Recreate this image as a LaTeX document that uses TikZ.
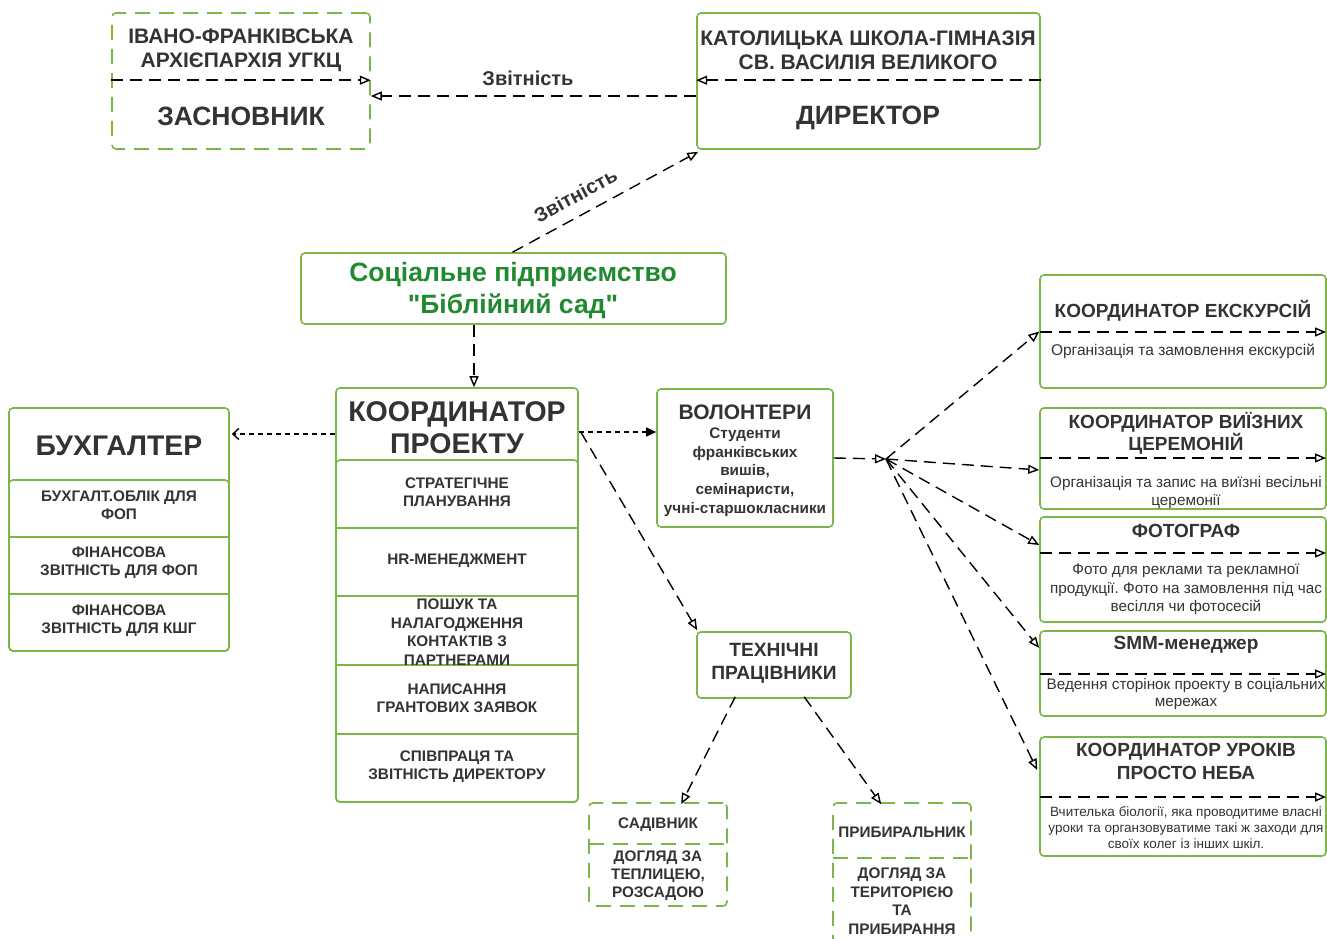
\documentclass[tikz,border=0pt]{standalone}
\usepackage{fontspec}
\setmainfont{Liberation Sans}[Ligatures=TeXOff]
\usetikzlibrary{arrows.meta,fit,calc}
\definecolor{gbox}{HTML}{7AB648}
\definecolor{gtext}{HTML}{1F8A2E}
\definecolor{dtext}{HTML}{333333}
\newcommand\fsz[2]{\fontsize{#1}{#2}\selectfont}
\frenchspacing
\begin{document}
\begin{tikzpicture}[x=1pt,y=-1pt,
 box/.style={draw=gbox,line width=1.6pt,rounded corners=4pt,inner sep=0pt},
 dbox/.style={box,dash pattern=on 15pt off 9pt},
 lbl/.style={text=dtext,align=center,inner sep=0pt},
 conn/.style={line width=1.4pt,dash pattern=on 12pt off 7pt,-{Triangle[open,length=11pt,width=9pt]}},
 sconn/.style={line width=1.4pt,dash pattern=on 5pt off 4pt},
 divline/.style={line width=1.4pt,dash pattern=on 12pt off 7pt,-{Triangle[open,length=11pt,width=9pt]}},
 gdiv/.style={draw=gbox,line width=1.6pt,dash pattern=on 15pt off 9pt},
 sdiv/.style={draw=gbox,line width=1.6pt},
]
\useasboundingbox (0,0) rectangle (1327,939);

% ---- Founder
\node[dbox,fit={(112,13) (370,149)}] (zas) {};
\node[lbl,font=\bfseries\fsz{21}{24}] (zasT) at (241,50) {ІВАНО-ФРАНКІВСЬКА\\АРХІЄПАРХІЯ УГКЦ};
\node[lbl,font=\bfseries\fsz{26.5}{30}] (zasN) at (241,116) {ЗАСНОВНИК};
\draw[divline] ($(zas.north west)+(0,68)$) -- ($(zas.north east)+(0,68)$);

% ---- Director
\node[box,fit={(697,13) (1040,149)}] (dir) {};
\node[lbl,font=\bfseries\fsz{21}{24}] (dirT) at (868,50) {КАТОЛИЦЬКА ШКОЛА-ГІМНАЗІЯ\\СВ. ВАСИЛІЯ ВЕЛИКОГО};
\node[lbl,font=\bfseries\fsz{26.5}{30}] (dirN) at (868,117.5) {ДИРЕКТОР};
\draw[divline] ($(dir.north east)+(0,68)$) -- ($(dir.north west)+(0,68)$);

\draw[conn] ([yshift=-15pt]dir.west) -- ([yshift=-15pt]zas.east);
\node[lbl,font=\bfseries\fsz{20}{22}] (rep1) at (528,78) {Звітність};

% ---- Social enterprise
\node[box,fit={(301,253) (726,324)}] (soc) {};
\node[lbl,text=gtext,font=\bfseries\fsz{26.5}{32}] (socT) at (513,290.5) {Соціальне підприємство\\"Біблійний сад"};
\draw[conn] ([xshift=-1pt]soc.north) -- node[lbl,pos=0.39,above=12pt,sloped,font=\bfseries\fsz{20}{22}] (rep2) {Звітність} ($(dir.south west)+(2,2)$);

% ---- Coordinator
\node[box,fit={(336,388) (578,802)}] (coord) {};
\node[box,fit={(336,460) (578,802)}] (coordL) {};
\foreach \yy in {528,596,665,734} \draw[sdiv] (336,\yy) -- (578,\yy);
\node[lbl,font=\bfseries\fsz{28.5}{32}] (coordT) at (457,428) {КООРДИНАТОР\\ПРОЕКТУ};
\node[lbl,font=\bfseries\fsz{15.3}{18}] (c1) at (457,492) {СТРАТЕГІЧНЕ\\ПЛАНУВАННЯ};
\node[lbl,font=\bfseries\fsz{15.3}{18}] (c2) at (457,561) {HR-МЕНЕДЖМЕНТ};
\node[lbl,font=\bfseries\fsz{15.3}{18.5}] (c3) at (457,632) {ПОШУК ТА\\НАЛАГОДЖЕННЯ\\КОНТАКТІВ З\\ПАРТНЕРАМИ};
\node[lbl,font=\bfseries\fsz{15.3}{18}] (c4) at (457,698) {НАПИСАННЯ\\ГРАНТОВИХ ЗАЯВОК};
\node[lbl,font=\bfseries\fsz{15.3}{18}] (c5) at (457,767) {СПІВПРАЦЯ ТА\\ЗВІТНІСТЬ ДИРЕКТОРУ};

\draw[conn] ([xshift=-39.5pt]soc.south) -- ([xshift=17pt]coord.north);

% ---- Accountant
\node[box,fit={(9,408) (229,651)}] (buh) {};
\node[box,fit={(9,480) (229,651)}] (buhL) {};
\foreach \yy in {537,594} \draw[sdiv] (9,\yy) -- (229,\yy);
\node[lbl,font=\bfseries\fsz{28.4}{32}] (buhT) at (119,446) {БУХГАЛТЕР};
\node[lbl,font=\bfseries\fsz{15.3}{18}] (b1) at (119,505.5) {БУХГАЛТ.ОБЛІК ДЛЯ\\ФОП};
\node[lbl,font=\bfseries\fsz{15.3}{18}] (b2) at (119,563) {ФІНАНСОВА\\ЗВІТНІСТЬ ДЛЯ ФОП};
\node[lbl,font=\bfseries\fsz{15.3}{18}] (b3) at (119,621) {ФІНАНСОВА\\ЗВІТНІСТЬ ДЛЯ КШГ};

\draw[sconn,-{Straight Barb[length=6pt,width=11pt]}] ([yshift=161pt]coord.west) -- ([yshift=95.5pt,xshift=2pt]buh.east);

% ---- Volunteers
\node[box,fit={(657,389) (833,527)}] (vol) {};
\node[lbl,font=\bfseries\fsz{21}{24}] (volT) at (745,412) {ВОЛОНТЕРИ};
\node[lbl,font=\bfseries\fsz{15.3}{18.75}] (volS) at (745,472) {Студенти\\франківських\\вишів,\\семінаристи,\\учні-старшокласники};
\draw[sconn,-{Triangle[length=10pt,width=9pt]}] ([yshift=163pt]coord.east) -- ([yshift=26pt]vol.west);

% ---- Hub
\coordinate (hub) at (886,459);
\draw[conn] (vol.east) -- (hub);

% ---- Right boxes
\node[box,fit={(1040,275) (1326,388)}] (exc) {};
\node[lbl,font=\bfseries\fsz{19}{22}] (excT) at (1183,311) {КООРДИНАТОР ЕКСКУРСІЙ};
\draw[divline] (1040,332) -- (1326,332);
\node[lbl,font=\fsz{15.5}{18}] (excS) at (1183,351) {Організація та замовлення екскурсій};

\node[box,fit={(1040,408) (1326,509)}] (vii) {};
\node[lbl,font=\bfseries\fsz{19}{22}] (viiT) at (1186,433) {КООРДИНАТОР ВИЇЗНИХ\\ЦЕРЕМОНІЙ};
\draw[divline] (1040,458) -- (1326,458);
\node[lbl,font=\fsz{15.3}{18}] (viiS) at (1186,493) {Організація та запис на виїзні весільні\\церемонії};

\node[box,fit={(1040,517) (1326,622)}] (foto) {};
\node[lbl,font=\bfseries\fsz{19}{22}] (fotoT) at (1186,531) {ФОТОГРАФ};
\draw[divline] (1040,553) -- (1326,553);
\node[lbl,font=\fsz{15.3}{18.5}] (fotoS) at (1186,589.5) {Фото для реклами та рекламної\\продукції. Фото на замовлення під час\\весілля чи фотосесій};

\node[box,fit={(1040,631) (1326,716)}] (smm) {};
\node[lbl,font=\bfseries\fsz{19}{22}] (smmT) at (1186,645) {SMM-менеджер};
\draw[divline] (1040,674) -- (1326,674);
\node[lbl,font=\fsz{15.3}{17}] (smmS) at (1186,694.5) {Ведення сторінок проекту в соціальних\\мережах};

\node[box,fit={(1040,737) (1326,856)}] (urok) {};
\node[lbl,font=\bfseries\fsz{19}{23}] (urokT) at (1186,761.5) {КООРДИНАТОР УРОКІВ\\ПРОСТО НЕБА};
\draw[divline] (1040,797) -- (1326,797);
\node[lbl,font=\fsz{13.5}{16}] (urokS) at (1186,828) {Вчителька біології, яка проводитиме власні\\уроки та органзовуватиме такі ж заходи для\\своїх колег із інших шкіл.};

\draw[conn] (hub) -- (exc.west);
\draw[conn] (hub) -- ([yshift=-11.5pt]vii.west);
\draw[conn] (hub) -- ([yshift=24.5pt]foto.west);
\draw[conn] (hub) -- ([yshift=25.5pt]smm.west);
\draw[conn] (hub) -- ([yshift=26.5pt,xshift=-2pt]urok.west);

% ---- Technical staff
\node[box,fit={(697,632) (851,698)}] (tech) {};
\node[lbl,font=\bfseries\fsz{19.2}{23}] (techT) at (774,663.5) {ТЕХНІЧНІ\\ПРАЦІВНИКИ};
\draw[conn] ([yshift=163pt,xshift=2pt]coord.east) -- ([xshift=1pt,yshift=1pt]tech.north west);

\node[dbox,fit={(589,803) (727,906)}] (sad) {};
\node[lbl,font=\bfseries\fsz{15.3}{18}] (sadT) at (658,825) {САДІВНИК};
\draw[gdiv] (589,844) -- (727,844);
\node[lbl,font=\bfseries\fsz{15.3}{18}] (sadS) at (658,876) {ДОГЛЯД ЗА\\ТЕПЛИЦЕЮ,\\РОЗСАДОЮ};

\node[dbox,fit={(833,803) (971,950)}] (prib) {};
\node[lbl,font=\bfseries\fsz{15.3}{18}] (pribT) at (902,832) {ПРИБИРАЛЬНИК};
\draw[gdiv] (833,858) -- (971,858);
\node[lbl,font=\bfseries\fsz{15.3}{18.7}] (pribS) at (902,901) {ДОГЛЯД ЗА\\ТЕРИТОРІЄЮ\\ТА\\ПРИБИРАННЯ};

\draw[conn] ([xshift=39pt,yshift=2pt]tech.south west) -- ([xshift=93pt,yshift=-2pt]sad.north west);
\draw[conn] ([xshift=108pt,yshift=2pt]tech.south west) -- ([xshift=49pt,yshift=-2pt]prib.north west);
\end{tikzpicture}
\end{document}
